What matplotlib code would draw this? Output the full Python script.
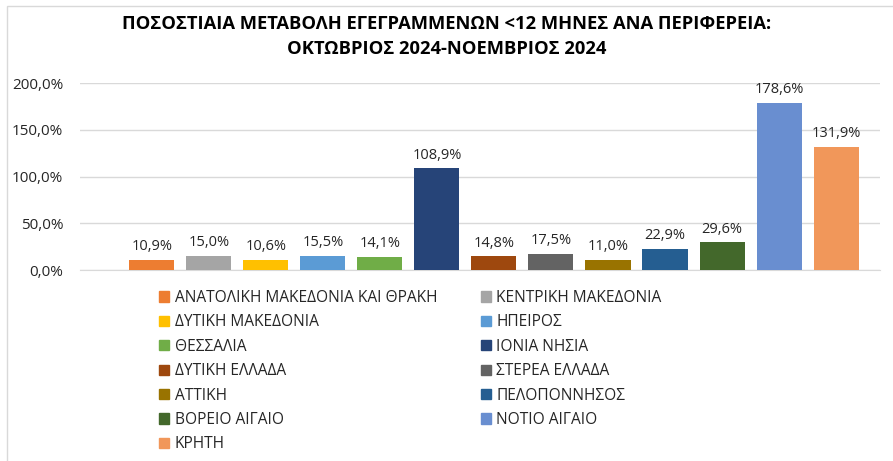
import matplotlib.pyplot as plt
from matplotlib.patches import Rectangle, Patch

plt.rcParams['font.family'] = ['Open Sans', 'DejaVu Sans']

# regions, values (% change Oct 2024 -> Nov 2024) and Excel palette
regions = ['ΑΝΑΤΟΛΙΚΗ ΜΑΚΕΔΟΝΙΑ ΚΑΙ ΘΡΑΚΗ', 'ΚΕΝΤΡΙΚΗ ΜΑΚΕΔΟΝΙΑ', 'ΔΥΤΙΚΗ ΜΑΚΕΔΟΝΙΑ',
           'ΗΠΕΙΡΟΣ', 'ΘΕΣΣΑΛΙΑ', 'ΙΟΝΙΑ ΝΗΣΙΑ', 'ΔΥΤΙΚΗ ΕΛΛΑΔΑ', 'ΣΤΕΡΕΑ ΕΛΛΑΔΑ',
           'ΑΤΤΙΚΗ', 'ΠΕΛΟΠΟΝΝΗΣΟΣ', 'ΒΟΡΕΙΟ ΑΙΓΑΙΟ', 'ΝΟΤΙΟ ΑΙΓΑΙΟ', 'ΚΡΗΤΗ']
values = [10.9, 15.0, 10.6, 15.5, 14.1, 108.9, 14.8, 17.5, 11.0, 22.9, 29.6, 178.6, 131.9]
colors = ['#ED7D31', '#A5A5A5', '#FFC000', '#5B9BD5', '#70AD47', '#264478', '#9E480E',
          '#636363', '#997300', '#255E91', '#43682B', '#698ED0', '#F1975A']

fig = plt.figure(figsize=(8.93, 4.61), dpi=100)
ax = fig.add_axes([0.0896, 0.4143, 0.8958, 0.4056])

x = list(range(len(values)))
ax.bar(x, values, width=0.79, color=colors, zorder=3)
for xi, v in zip(x, values):
    ax.text(xi, v + 6, f'{v:.1f}%'.replace('.', ','), ha='center', va='bottom',
            fontsize=10.5, color='#262626')

ax.set_xlim(-1.26, 12.77)
ax.set_ylim(0, 200)
ax.set_yticks([0, 50, 100, 150, 200])
ax.set_yticklabels([f'{t:.1f}%'.replace('.', ',') for t in [0, 50, 100, 150, 200]],
                   fontsize=11, color='#262626')
ax.set_xticks([])
ax.tick_params(axis='y', length=0, pad=12)
ax.grid(axis='y', color='#D9D9D9', linewidth=1, zorder=0)
for s in ['top', 'right', 'left']:
    ax.spines[s].set_visible(False)
ax.spines['bottom'].set_color('#D9D9D9')

fig.text(0.5, 0.947, 'ΠΟΣΟΣΤΙΑΙΑ ΜΕΤΑΒΟΛΗ ΕΓΕΓΡΑΜΜΕΝΩΝ <12 ΜΗΝΕΣ ΑΝΑ ΠΕΡΙΦΕΡΕΙΑ:',
         ha='center', va='center', fontsize=13.2, fontweight='bold')
fig.text(0.5, 0.893, 'ΟΚΤΩΒΡΙΟΣ 2024-ΝΟΕΜΒΡΙΟΣ 2024',
         ha='center', va='center', fontsize=13.2, fontweight='bold')

# legend is filled row by row in the reference; matplotlib fills by column
order = list(range(0, 13, 2)) + list(range(1, 13, 2))
handles = [Patch(color=colors[i], label=regions[i]) for i in order]
fig.legend(handles=handles, ncol=2, loc='upper left', bbox_to_anchor=(0.178, 0.371),
           frameon=False, fontsize=11.2, handlelength=0.65, handleheight=0.65,
           handletextpad=0.35, columnspacing=2.8, labelspacing=0.54,
           labelcolor='#262626', borderaxespad=0, borderpad=0)

fig.patches.append(Rectangle((7 / 893, -0.1), 1.1, 1 - 6 / 461 + 0.1,
                             transform=fig.transFigure, fill=False,
                             edgecolor='#D9D9D9', linewidth=1))

fig.savefig('out.png', dpi=100)
